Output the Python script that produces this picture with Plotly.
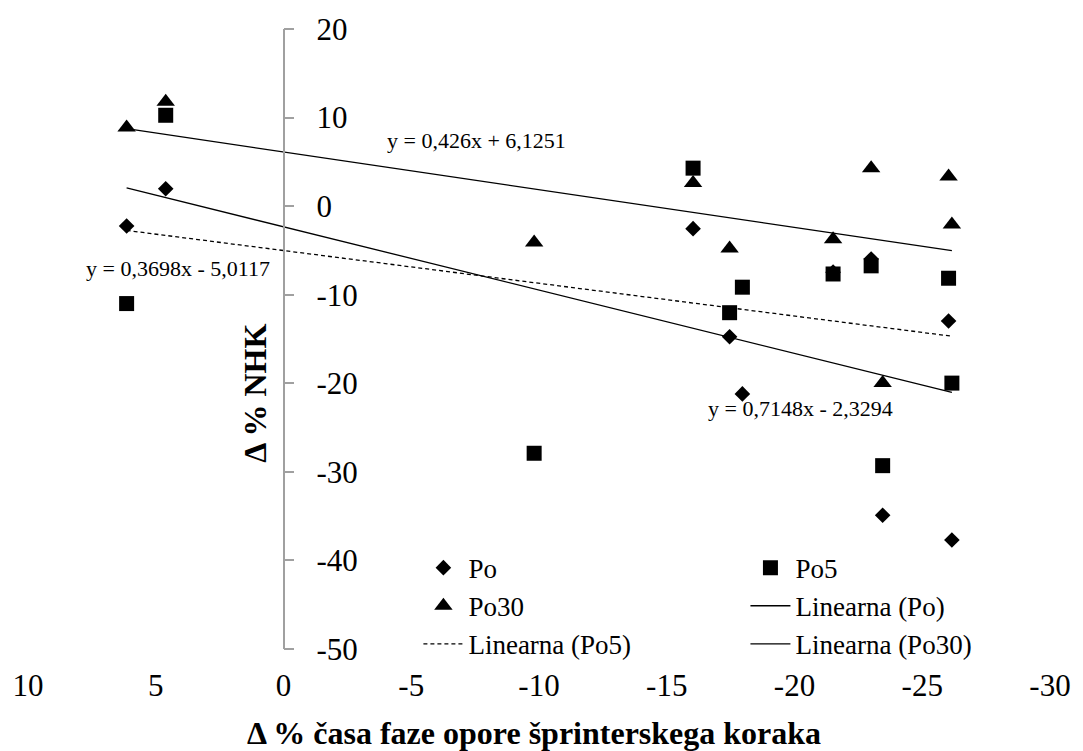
import numpy as np
import plotly.graph_objects as go

# Δ % contact-phase time (x) vs Δ % NHK (y) for three measurement moments
x_po = [6.14, 4.61, -16.03, -17.46, -17.96, -21.51, -23.0, -23.45, -26.03, -26.16]
y_po = [-2.24, 1.97, -2.54, -14.75, -21.2, -7.45, -5.96, -34.9, -12.96, -37.7]

x_po5 = [6.14, 4.61, -9.81, -16.03, -17.46, -17.96, -21.51, -23.0, -23.45, -26.03, -26.16]
y_po5 = [-11.0, 10.26, -27.9, 4.29, -12.03, -9.15, -7.66, -6.74, -29.3, -8.14, -19.98]

x_po30 = [6.14, 4.61, -9.81, -16.03, -17.46, -21.51, -23.0, -23.45, -26.03, -26.16]
y_po30 = [8.87, 11.8, -4.11, 2.61, -4.78, -3.74, 4.29, -19.98, 3.36, -2.06]

# linear trend coefficients (slope, intercept)
trend_po = (0.7148, -2.3294)
trend_po5 = (0.3698, -5.0117)
trend_po30 = (0.426, 6.1251)

x_ticks = [10, 5, 0, -5, -10, -15, -20, -25, -30]
x_tick_text = ["10", "5", "0", "-5", "-10", "-15", "-20", "-25", "-30"]
y_ticks = [20, 10, 0, -10, -20, -30, -40, -50]
y_tick_text = ["20", "10", "0", "-10", "-20", "-30", "-40", "-50"]

FONT = "Times New Roman, Liberation Serif, serif"
AXIS_GREY = "#a0a0a0"


def trend_xy(xs, coef):
    xx = np.array([max(xs), min(xs)])
    return xx, coef[0] * xx + coef[1]


fig = go.Figure()

fig.add_trace(go.Scatter(x=x_po, y=y_po, mode="markers", name="Po", legend="legend",
                         marker=dict(symbol="diamond", size=12, color="black")))
fig.add_trace(go.Scatter(x=x_po5, y=y_po5, mode="markers", name="Po5", legend="legend2",
                         marker=dict(symbol="square", size=15, color="black")))
fig.add_trace(go.Scatter(x=x_po30, y=y_po30, mode="markers", name="Po30", legend="legend",
                         marker=dict(symbol="triangle-up", size=16, color="black")))

tx, ty = trend_xy(x_po, trend_po)
fig.add_trace(go.Scatter(x=tx, y=ty, mode="lines", name="Linearna (Po)", legend="legend2",
                         line=dict(color="black", width=1.3)))
tx, ty = trend_xy(x_po5, trend_po5)
fig.add_trace(go.Scatter(x=tx, y=ty, mode="lines", name="Linearna (Po5)", legend="legend",
                         line=dict(color="black", width=1.3, dash="4px,3px")))
tx, ty = trend_xy(x_po30, trend_po30)
fig.add_trace(go.Scatter(x=tx, y=ty, mode="lines", name="Linearna (Po30)", legend="legend2",
                         line=dict(color="black", width=1.3)))


def eq_text(coef):
    a, b = coef
    sign = "+" if b >= 0 else "-"
    return f"y = {a:g}x {sign} {abs(b):g}".replace(".", ",")


eq_font = dict(family=FONT, size=22, color="black")
fig.add_annotation(x=-3.97, y=7.42, text=eq_text(trend_po30), showarrow=False,
                   xanchor="left", yanchor="middle", font=eq_font)
fig.add_annotation(x=7.81, y=-7.09, text=eq_text(trend_po5), showarrow=False,
                   xanchor="left", yanchor="middle", font=eq_font)
fig.add_annotation(x=-16.53, y=-22.8, text=eq_text(trend_po), showarrow=False,
                   xanchor="left", yanchor="middle", font=eq_font)

# axis titles
fig.add_annotation(xref="paper", yref="paper", x=0.495, y=-0.136,
                   text="<b>Δ % časa faze opore šprinterskega koraka</b>", showarrow=False,
                   xanchor="center", yanchor="middle",
                   font=dict(family=FONT, size=32, color="black"))
fig.add_annotation(xref="paper", yref="paper", x=0.222, y=0.413,
                   text="<b>Δ % NHK</b>", showarrow=False, textangle=-90,
                   xanchor="center", yanchor="middle",
                   font=dict(family=FONT, size=32, color="black"))

legend_common = dict(font=dict(family=FONT, size=27, color="black"), bgcolor="rgba(0,0,0,0)",
                     xanchor="left", yanchor="top", tracegroupgap=0, itemwidth=40)

fig.update_layout(
    width=1083, height=751,
    margin=dict(l=26, r=25, t=24, b=102),
    paper_bgcolor="white", plot_bgcolor="white",
    showlegend=True,
    legend=dict(x=0.382, y=0.17, **legend_common),
    legend2=dict(x=0.702, y=0.17, **legend_common),
    xaxis=dict(range=[10, -30], tickvals=x_ticks, ticktext=x_tick_text,
               showgrid=False, zeroline=False, showline=False,
               ticks="outside", ticklen=1, tickcolor="rgba(0,0,0,0)",
               ticklabelstandoff=8,
               tickfont=dict(family=FONT, size=31, color="black")),
    xaxis2=dict(range=[10, -30], overlaying="x", anchor="free", position=50 / 70,
                side="bottom", tickvals=x_ticks, showticklabels=False,
                showgrid=False, zeroline=False, showline=True, linecolor=AXIS_GREY,
                linewidth=1.5, ticks="outside", ticklen=10, tickcolor=AXIS_GREY, tickwidth=1.5),
    yaxis=dict(range=[-50, 20], tickvals=y_ticks, ticktext=y_tick_text,
               anchor="free", position=0.25, side="right",
               showgrid=False, zeroline=False, showline=True, linecolor=AXIS_GREY, linewidth=1.5,
               ticks="outside", ticklen=10, tickcolor=AXIS_GREY, tickwidth=1.5,
               ticklabelstandoff=16,
               tickfont=dict(family=FONT, size=31, color="black")),
)

fig.write_html("out.html")
